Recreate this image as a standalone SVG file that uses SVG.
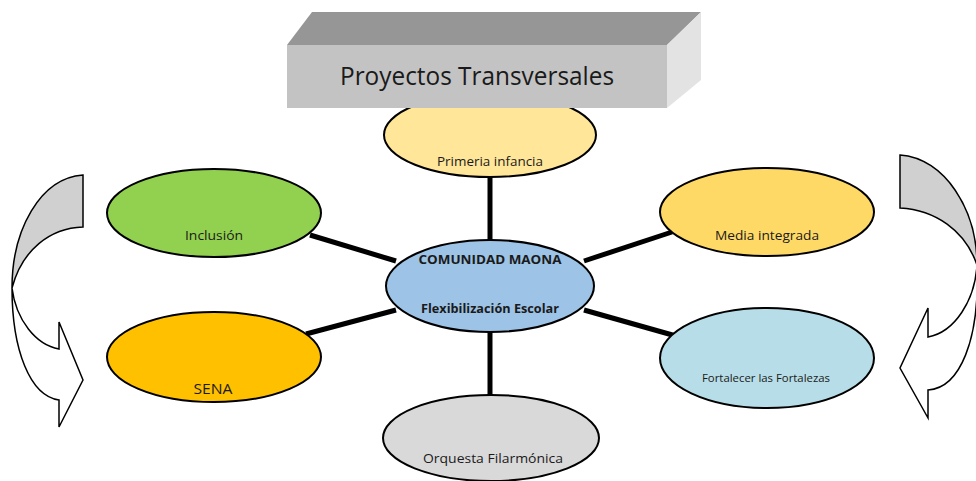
<svg xmlns="http://www.w3.org/2000/svg" width="976" height="481" viewBox="0 0 976 481">
<style>
.node ellipse{stroke:#000;stroke-width:2}
.lbl{font-family:"Open Sans","Liberation Sans",Arial,sans-serif;fill:#1a1a1a;text-anchor:middle}
.conn line{stroke:#000;stroke-width:5}
.arr{stroke:#000;stroke-width:1.5;stroke-linejoin:miter}
</style>
<rect width="976" height="481" fill="#ffffff"/>
<g id="connectors" class="conn">
<line x1="490" y1="175" x2="490" y2="242"/>
<line x1="310" y1="235" x2="396" y2="261"/>
<line x1="672" y1="232" x2="584" y2="261"/>
<line x1="306" y1="334" x2="396" y2="310"/>
<line x1="676" y1="336" x2="584" y2="310"/>
<line x1="490" y1="330" x2="490" y2="397"/>
</g>
<g id="arrow-left">
<path class="arr" fill="#d0d0d0" d="M83,175 C40,178 12,230 12,288 C22,250 50,228 83,227 Z"/>
<path class="arr" fill="#ffffff" d="M12,288 C16,320 36,345 59,349 L59,322 L83,380 L59,427 L59,400 C30,396 12,350 12,288 Z"/>
</g>
<g id="arrow-right">
<path class="arr" fill="#d0d0d0" d="M900,155 C945,158 977,210 977,265 C965,230 935,210 900,208 Z"/>
<path class="arr" fill="#ffffff" d="M977,265 C975,300 955,332 928,337 L928,308 L900,368 L928,418 L928,390 C960,388 980,340 977,265 Z"/>
</g>
<g id="node-primeria" class="node">
<ellipse cx="490" cy="135" rx="106" ry="42" fill="#ffe699"/>
<text class="lbl" x="490" y="166" font-size="13" textLength="106" lengthAdjust="spacingAndGlyphs">Primeria infancia</text>
</g>
<g id="node-titulo">
<polygon points="287,45 312,12 701,12 667,45" fill="#969696"/>
<polygon points="667,45 701,12 701,80 667,108" fill="#e3e3e3"/>
<rect x="287" y="45" width="380" height="63" fill="#c3c3c3"/>
<text class="lbl" x="477" y="85" font-size="25" fill="#111" textLength="274" lengthAdjust="spacingAndGlyphs">Proyectos Transversales</text>
</g>
<g id="node-inclusion" class="node">
<ellipse cx="214" cy="213" rx="107" ry="44" fill="#92d050"/>
<text class="lbl" x="214" y="240" font-size="13" textLength="58" lengthAdjust="spacingAndGlyphs">Inclusión</text>
</g>
<g id="node-media" class="node">
<ellipse cx="767" cy="212" rx="107" ry="44" fill="#ffd966"/>
<text class="lbl" x="767" y="240" font-size="13" textLength="104" lengthAdjust="spacingAndGlyphs">Media integrada</text>
</g>
<g id="node-central" class="node">
<ellipse cx="490" cy="286" rx="104" ry="46" fill="#9dc3e6"/>
<text class="lbl" x="490" y="264" font-size="13" font-weight="bold" textLength="143" lengthAdjust="spacingAndGlyphs">COMUNIDAD MAONA</text>
<text class="lbl" x="490" y="313" font-size="13" font-weight="bold" textLength="138" lengthAdjust="spacingAndGlyphs">Flexibilización Escolar</text>
</g>
<g id="node-sena" class="node">
<ellipse cx="214" cy="357" rx="107" ry="45" fill="#ffc000"/>
<text class="lbl" x="213" y="394" font-size="15" textLength="39" lengthAdjust="spacingAndGlyphs">SENA</text>
</g>
<g id="node-fortalecer" class="node">
<ellipse cx="767" cy="358" rx="107" ry="50" fill="#b7dee8"/>
<text class="lbl" x="766" y="382" font-size="11" textLength="128" lengthAdjust="spacingAndGlyphs">Fortalecer las Fortalezas</text>
</g>
<g id="node-orquesta" class="node">
<ellipse cx="491" cy="438" rx="108" ry="43" fill="#d9d9d9"/>
<text class="lbl" x="493" y="463" font-size="13" textLength="140" lengthAdjust="spacingAndGlyphs">Orquesta Filarmónica</text>
</g>
</svg>
